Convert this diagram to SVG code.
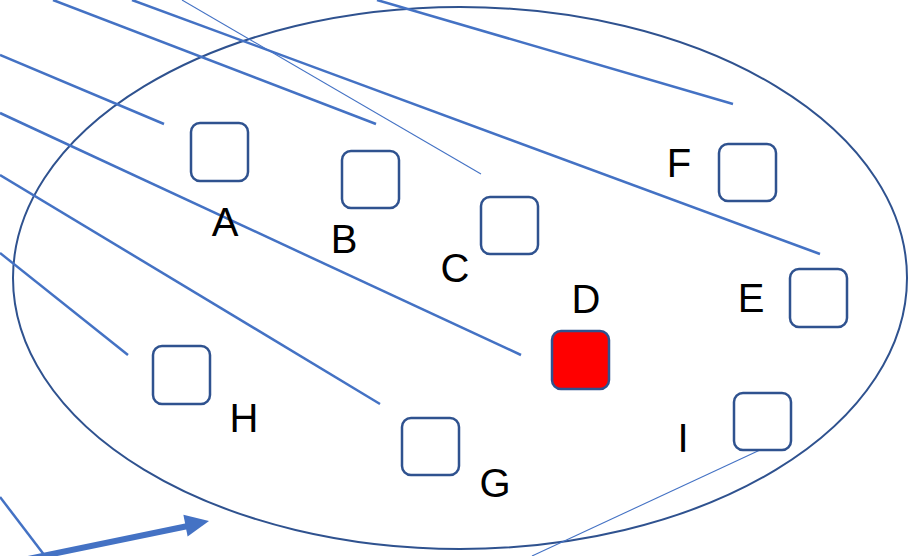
<svg xmlns="http://www.w3.org/2000/svg" width="924" height="556" viewBox="0 0 924 556">
<style>
.node rect{fill:#fff;stroke:#2F528F;stroke-width:2.5}
.lbl{font-family:"Liberation Sans",Arial,sans-serif;font-size:40px;fill:#000;text-anchor:middle}
.ln{stroke:#4472C4;stroke-width:2.5;fill:none}
.thin{stroke:#4472C4;stroke-width:1.1;fill:none}
</style>
<ellipse id="boundary" cx="460" cy="278" rx="447" ry="271" fill="none" stroke="#2F528F" stroke-width="2"/>
<g id="connectors">
<line class="ln" x1="0" y1="55" x2="164" y2="124"/>
<line class="ln" x1="53" y1="0" x2="376" y2="124"/>
<line class="ln" x1="132" y1="0" x2="820" y2="254"/>
<line class="thin" x1="182" y1="0" x2="481" y2="174"/>
<line class="ln" x1="377" y1="0" x2="733" y2="104"/>
<line class="ln" x1="0" y1="113" x2="521" y2="355"/>
<line class="ln" x1="0" y1="175" x2="380" y2="404"/>
<line class="ln" x1="0" y1="253" x2="128" y2="355"/>
<line class="ln" x1="0" y1="497" x2="45" y2="556"/>
<line class="thin" x1="760" y1="450" x2="532" y2="556"/>
<line stroke="#4472C4" stroke-width="6" x1="28" y1="559" x2="188" y2="526"/>
<polygon points="209,521 183.4,514.8 187.6,536.4" fill="#4472C4"/>
</g>
<g id="A" class="node"><rect x="191" y="123" width="57" height="58" rx="9"/><text class="lbl" x="225" y="236">A</text></g>
<g id="B" class="node"><rect x="342" y="151" width="57" height="57" rx="9"/><text class="lbl" x="344" y="253">B</text></g>
<g id="C" class="node"><rect x="481" y="197" width="57" height="57" rx="9"/><text class="lbl" x="455" y="282">C</text></g>
<g id="D" class="node"><rect x="552" y="331" width="57" height="58" rx="9" style="fill:#FF0000"/><text class="lbl" x="586" y="313">D</text></g>
<g id="E" class="node"><rect x="790" y="269" width="57" height="58" rx="9"/><text class="lbl" x="751" y="312">E</text></g>
<g id="F" class="node"><rect x="719" y="144" width="57" height="57" rx="9"/><text class="lbl" x="679" y="177">F</text></g>
<g id="G" class="node"><rect x="402" y="418" width="57" height="57" rx="9"/><text class="lbl" x="495" y="497">G</text></g>
<g id="H" class="node"><rect x="153" y="346" width="57" height="58" rx="9"/><text class="lbl" x="244" y="432">H</text></g>
<g id="I" class="node"><rect x="734" y="393" width="57" height="57" rx="9"/><text class="lbl" x="683" y="452">I</text></g>
</svg>
